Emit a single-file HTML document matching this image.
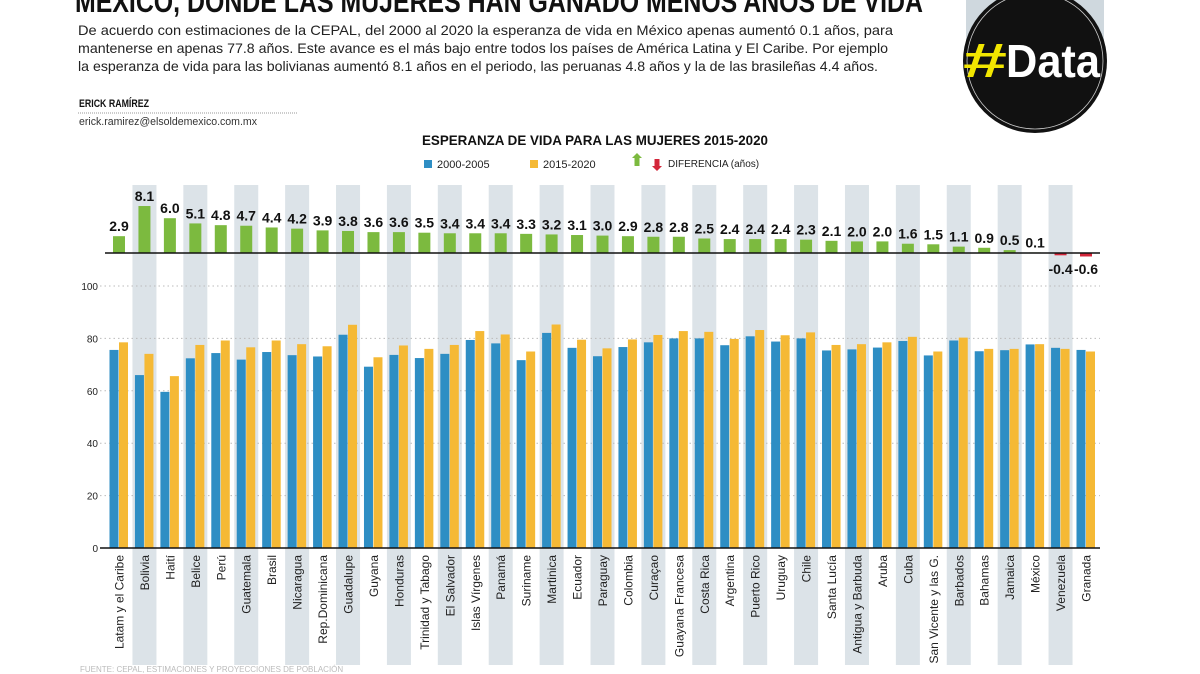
<!DOCTYPE html>
<html><head><meta charset="utf-8"><style>
html,body{margin:0;padding:0;background:#fff;}
svg{display:block;font-family:"Liberation Sans",sans-serif;}
</style></head><body>
<svg width="1200" height="674" viewBox="0 0 1200 674" xmlns="http://www.w3.org/2000/svg">
<rect x="966" y="0" width="138" height="40" fill="#cfd8de"/>
<text x="75" y="12" font-size="31" font-weight="bold" fill="#111" textLength="848" lengthAdjust="spacingAndGlyphs">MÉXICO, DONDE LAS MUJERES HAN GANADO MENOS AÑOS DE VIDA</text>
<g font-size="14" fill="#222">
<text x="78" y="35" textLength="815" lengthAdjust="spacingAndGlyphs">De acuerdo con estimaciones de la CEPAL, del 2000 al 2020 la esperanza de vida en México apenas aumentó 0.1 años, para</text>
<text x="78" y="53" textLength="810" lengthAdjust="spacingAndGlyphs">mantenerse en apenas 77.8 años. Este avance es el más bajo entre todos los países de América Latina y El Caribe. Por ejemplo</text>
<text x="78" y="71" textLength="800" lengthAdjust="spacingAndGlyphs">la esperanza de vida para las bolivianas aumentó 8.1 años en el periodo, las peruanas 4.8 años y la de las brasileñas 4.4 años.</text>
</g>
<text x="79" y="107" font-size="11" font-weight="bold" fill="#111" textLength="70" lengthAdjust="spacingAndGlyphs">ERICK RAMÍREZ</text>
<line x1="78" y1="113" x2="297" y2="113" stroke="#999" stroke-dasharray="1,1"/>
<text x="79" y="125" font-size="11" fill="#333" textLength="178" lengthAdjust="spacingAndGlyphs">erick.ramirez@elsoldemexico.com.mx</text>
<circle cx="1035" cy="61" r="72" fill="#111"/>
<circle cx="1035" cy="61" r="68" fill="none" stroke="#ccc" stroke-width="0.8"/>
<text x="963" y="77" font-size="48" font-weight="bold" fill="#f2e600" textLength="44" lengthAdjust="spacingAndGlyphs">#</text>
<text x="1006" y="77" font-size="46" font-weight="bold" fill="#fff" textLength="94" lengthAdjust="spacingAndGlyphs">Data</text>
<text x="422" y="145" font-size="14" font-weight="bold" fill="#111" textLength="346" lengthAdjust="spacingAndGlyphs">ESPERANZA DE VIDA PARA LAS MUJERES 2015-2020</text>
<rect x="424" y="160" width="8" height="8" fill="#2e8ec4"/>
<text x="437" y="168" font-size="11" fill="#222">2000-2005</text>
<rect x="530" y="160" width="8" height="8" fill="#f5b935"/>
<text x="543" y="168" font-size="11" fill="#222">2015-2020</text>
<polygon points="632,158 637,153 642,158 639.5,158 639.5,166 634.5,166 634.5,158" fill="#7cba3f"/>
<polygon points="652,166 657,171 662,166 659.5,166 659.5,159 654.5,159 654.5,166" fill="#d3263a"/>
<text x="668" y="167" font-size="10" fill="#222">DIFERENCIA (años)</text>
<g id="chart"></g>
<text x="80" y="672" font-size="8" fill="#bbb">FUENTE: CEPAL, ESTIMACIONES Y PROYECCIONES DE POBLACIÓN</text>
</svg>
<script>
const names=["Latam y el Caribe","Bolivia","Haití","Belice","Perú","Guatemala","Brasil","Nicaragua","Rep.Dominicana","Guadalupe","Guyana","Honduras","Trinidad y Tabago","El Salvador","Islas Vírgenes","Panamá","Suriname","Martinica","Ecuador","Paraguay","Colombia","Curaçao","Guayana Francesa","Costa Rica","Argentina","Puerto Rico","Uruguay","Chile","Santa Lucía","Antigua y Barbuda","Aruba","Cuba","San Vicente y las G.","Barbados","Bahamas","Jamaica","México","Venezuela","Granada"];
const diff=[2.9,8.1,6.0,5.1,4.8,4.7,4.4,4.2,3.9,3.8,3.6,3.6,3.5,3.4,3.4,3.4,3.3,3.2,3.1,3.0,2.9,2.8,2.8,2.5,2.4,2.4,2.4,2.3,2.1,2.0,2.0,1.6,1.5,1.1,0.9,0.5,0.1,-0.4,-0.6];
const org=[78.5,74.1,65.6,77.5,79.2,76.6,79.2,77.8,77.0,85.2,72.8,77.3,76.0,77.5,82.8,81.5,75.0,85.3,79.5,76.2,79.6,81.3,82.8,82.5,79.8,83.2,81.2,82.3,77.5,77.8,78.5,80.6,75.0,80.3,76.0,76.0,77.8,76.0,75.0];
const n=names.length, x0=119, dx=(1086-119)/(n-1);
let s="";
for(let i=0;i<n;i++){const c=x0+i*dx; if(i%2==1) s+=`<rect x="${c-12}" y="185" width="24" height="480" fill="#dce3e8"/>`;}
const y=v=>548-v*2.62;
for(let v=20;v<=100;v+=20){s+=`<line x1="100" x2="1100" y1="${y(v)}" y2="${y(v)}" stroke="#bbb" stroke-dasharray="1.5,3"/><text x="98" y="${y(v)+4}" font-size="10" text-anchor="end" fill="#222">${v}</text>`;}
s+=`<text x="98" y="552" font-size="10" text-anchor="end" fill="#222">0</text>`;
for(let i=0;i<n;i++){const c=x0+i*dx,o=org[i],b=o-diff[i],d=diff[i];
s+=`<rect x="${c-9.5}" y="${y(b)}" width="9" height="${548-y(b)}" fill="#2e8ec4"/>`;
s+=`<rect x="${c}" y="${y(o)}" width="9" height="${548-y(o)}" fill="#f5b935"/>`;
const h=Math.abs(d)*5.8;
if(d>=0){s+=`<rect x="${c-6}" y="${253-h}" width="12" height="${h}" fill="#7cba3f"/><text x="${c}" y="${253-h-5}" font-size="14" font-weight="bold" text-anchor="middle" fill="#111">${d.toFixed(1)}</text>`;}
else{s+=`<rect x="${c-6}" y="253" width="12" height="${h}" fill="#d3263a"/><text x="${c}" y="274" font-size="14" font-weight="bold" text-anchor="middle" fill="#111">${d.toFixed(1)}</text>`;}
s+=`<text transform="translate(${c+4.5},555) rotate(-90)" font-size="12" text-anchor="end" fill="#222">${names[i]}</text>`;}
s+=`<line x1="100" x2="1100" y1="548" y2="548" stroke="#111" stroke-width="1.5"/><line x1="105" x2="1100" y1="253" y2="253" stroke="#111" stroke-width="1.5"/>`;
document.getElementById("chart").innerHTML=s;
</script>
</body></html>
